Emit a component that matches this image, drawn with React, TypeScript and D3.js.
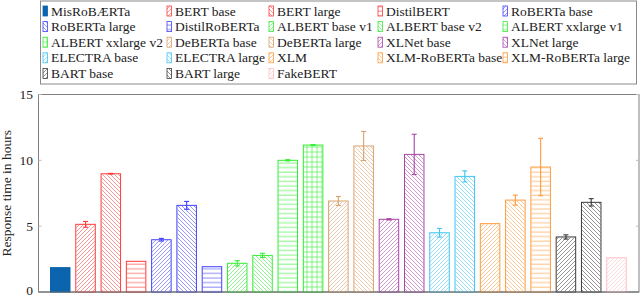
import * as d3 from "d3";

// models, in bar order
const models: string[] = [
  "MisRoBÆRTa", "BERT base", "BERT large", "DistilBERT", "RoBERTa base",
  "RoBERTa large", "DistilRoBERTa", "ALBERT base v1", "ALBERT base v2", "ALBERT xxlarge v1",
  "ALBERT xxlarge v2", "DeBERTa base", "DeBERTa large", "XLNet base", "XLNet large",
  "ELECTRA base", "ELECTRA large", "XLM", "XLM-RoBERTa base", "XLM-RoBERTa large",
  "BART base", "BART large", "FakeBERT",
];
const times: number[] = [
  1.85, 5.14, 8.98, 2.33, 3.97, 6.58, 1.92, 2.18, 2.78, 10.0,
  11.16, 6.91, 11.09, 5.52, 10.45, 4.5, 8.78, 5.19, 6.98, 9.49,
  4.18, 6.81, 2.6,
];
const errors: number[] = [
  0, 0.22, 0.03, 0, 0.1, 0.3, 0, 0.2, 0.16, 0.05,
  0.03, 0.34, 1.1, 0.05, 1.53, 0.33, 0.42, 0, 0.38, 2.18,
  0.16, 0.28, 0,
];
const colors: string[] = [
  "#0b64ad", "#ff3b3b", "#ff3b3b", "#ff3b3b", "#4040ff",
  "#4040ff", "#4040ff", "#33ee33", "#33ee33", "#33ee33",
  "#33ee33", "#d9a06c", "#d9a06c", "#a943a9", "#a943a9",
  "#3fc6f2", "#3fc6f2", "#ff9a3a", "#ff9a3a", "#ff9a3a",
  "#3a3a3a", "#3a3a3a", "#ffbcc6",
];
// fill style: solid, ne (/), nw (\), h (horizontal), grid
const patterns: string[] = [
  "solid", "ne", "nw", "h", "ne",
  "nw", "h", "ne", "nw", "h",
  "grid", "ne", "nw", "ne", "nw",
  "ne", "nw", "ne", "nw", "h",
  "ne", "nw", "ne",
];
const yTicks: number[] = [0, 5, 10, 15];

const W = 640;
const H = 297;
const plotL = 38.5;
const plotR = 639;
const plotT = 94.5;
const plotB = 292;
const legendCols: number[] = [43, 167, 269, 378, 503];
const legendRow0 = 11;
const legendRowH = 15.6;
const font = "Liberation Serif, DejaVu Serif, serif";

function PatternDef({ id, kind, color }: { id: string; kind: string; color: string }) {
  const s = 4;
  const op = 0.6;
  if (kind === "ne") {
    return (
      <pattern id={id} patternUnits="userSpaceOnUse" width={s} height={s}>
        <path d={`M-1,1 L1,-1 M0,${s} L${s},0 M${s - 1},${s + 1} L${s + 1},${s - 1}`} stroke={color} strokeWidth={0.9} strokeOpacity={op} />
      </pattern>
    );
  }
  if (kind === "nw") {
    return (
      <pattern id={id} patternUnits="userSpaceOnUse" width={s} height={s}>
        <path d={`M-1,${s - 1} L1,${s + 1} M0,0 L${s},${s} M${s - 1},-1 L${s + 1},1`} stroke={color} strokeWidth={0.9} strokeOpacity={op} />
      </pattern>
    );
  }
  if (kind === "h") {
    return (
      <pattern id={id} patternUnits="userSpaceOnUse" width={5} height={4.6}>
        <path d="M0,2 L5,2" stroke={color} strokeWidth={1} strokeOpacity={op} />
      </pattern>
    );
  }
  return (
    <pattern id={id} patternUnits="userSpaceOnUse" width={5} height={5}>
      <path d="M0,2 L5,2 M2,0 L2,5" stroke={color} strokeWidth={1} strokeOpacity={op} />
    </pattern>
  );
}

export default function App() {
  const x = d3.scaleLinear().domain([-0.86, models.length - 1 + 0.89]).range([plotL, plotR]);
  const y = d3.scaleLinear().domain([0, 15]).range([plotB, plotT]);
  const barW = 19.5;

  const fillFor = (i: number) => (patterns[i] === "solid" ? colors[i] : `url(#pat${i})`);
  const txt = { fontFamily: font };

  return (
    <svg width={W} height={H} style={{ position: "absolute", left: 0, top: 0, background: "#fff", fontFamily: font }}>
      <defs>
        {models.map((m, i) =>
          patterns[i] === "solid" ? null : <PatternDef key={m} id={`pat${i}`} kind={patterns[i]} color={colors[i]} />
        )}
      </defs>

      {/* legend */}
      <rect x={40.5} y={1} width={596} height={83} fill="#fff" stroke="#8a8a8a" strokeWidth={1} />
      {models.map((m, i) => {
        const col = i % 5;
        const row = Math.floor(i / 5);
        const lx = legendCols[col];
        const ly = legendRow0 + row * legendRowH;
        return (
          <g key={m}>
            <rect x={lx} y={ly - 5} width={4.5} height={10} fill={fillFor(i)} stroke={colors[i]} strokeWidth={0.8} />
            <text x={lx + 8} y={ly + 4.5} fontSize={13.5} fill="#222" style={txt}>{m}</text>
          </g>
        );
      })}

      {/* axes box */}
      <rect x={plotL} y={plotT} width={plotR - plotL} height={plotB - plotT} fill="none" stroke="#808080" strokeWidth={1} />
      {yTicks.map((t) => (
        <g key={t}>
          <line x1={plotL} x2={plotL + 3} y1={y(t)} y2={y(t)} stroke="#bbb" />
          <line x1={plotR - 3} x2={plotR} y1={y(t)} y2={y(t)} stroke="#bbb" />
          <text x={33} y={Math.min(y(t) + 4.5, 294.5)} fontSize={13.5} textAnchor="end" fill="#222" style={txt}>{t}</text>
        </g>
      ))}
      <text transform={`translate(11,${(plotT + plotB) / 2}) rotate(-90)`} textAnchor="middle" fontSize={13.5} fill="#222" style={txt}>
        Response time in hours
      </text>

      {/* bars */}
      {models.map((m, i) => (
        <rect key={m} x={x(i) - barW / 2} y={y(times[i])} width={barW} height={y(0) - y(times[i])}
          fill={patterns[i] === "solid" ? colors[i] : "#fff"} stroke={colors[i]} strokeWidth={1} />
      ))}
      {models.map((m, i) =>
        patterns[i] === "solid" ? null : (
          <rect key={m + "p"} x={x(i) - barW / 2 + 0.5} y={y(times[i]) + 0.5} width={barW - 1} height={y(0) - y(times[i]) - 1} fill={fillFor(i)} />
        )
      )}

      {/* error bars */}
      {models.map((m, i) => {
        if (errors[i] <= 0) return null;
        const cx = x(i);
        const y1 = y(times[i] + errors[i]);
        const y2 = y(times[i] - errors[i]);
        return (
          <g key={m + "e"} stroke={colors[i]} strokeWidth={1.1}>
            <line x1={cx} x2={cx} y1={y1} y2={y2} />
            <line x1={cx - 2.5} x2={cx + 2.5} y1={y1} y2={y1} />
            <line x1={cx - 2.5} x2={cx + 2.5} y1={y2} y2={y2} />
          </g>
        );
      })}

      <line x1={plotL} x2={plotR} y1={plotB} y2={plotB} stroke="#666" strokeWidth={1.2} />
    </svg>
  );
}
